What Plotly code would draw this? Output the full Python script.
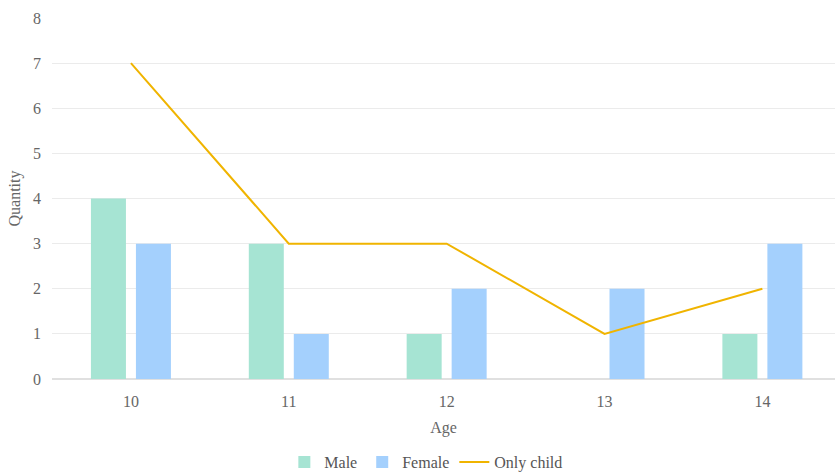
import plotly.graph_objects as go

ages = ["10", "11", "12", "13", "14"]
male = [4, 3, 1, 0, 1]
female = [3, 1, 2, 2, 3]
only_child = [7, 3, 3, 1, 2]

font_family = "Liberation Serif, Times New Roman, serif"

fig = go.Figure()
fig.add_trace(go.Bar(x=ages, y=male, name="Male", marker=dict(color="#a6e4d3", line=dict(width=0))))
fig.add_trace(go.Bar(x=ages, y=female, name="Female", marker=dict(color="#a4d0fd", line=dict(width=0))))
fig.add_trace(go.Scatter(x=ages, y=only_child, name="Only child", mode="lines",
                         line=dict(color="#f0b400", width=2)))

fig.update_layout(
    width=835, height=472,
    margin=dict(l=52, r=0, t=18, b=93, autoexpand=False),
    plot_bgcolor="white", paper_bgcolor="white",
    font=dict(family=font_family, size=16, color="#666666"),
    barmode="group", bargap=0.43, bargroupgap=0.222,
    showlegend=True,
    legend=dict(orientation="h", x=0.51, xanchor="center", xref="container",
                y=0.021, yanchor="middle", yref="container",
                font=dict(family=font_family, size=16, color="#555555"), itemwidth=30,
                tracegroupgap=0),
    xaxis=dict(type="category", range=[-0.5, 4.46], showgrid=False,
               showline=True, linecolor="#e0e0e0", linewidth=1,
               ticks="", automargin=False, ticklabelstandoff=8,
               tickfont=dict(family=font_family, size=16, color="#666666"),
               title=dict(text="Age", standoff=12,
                          font=dict(family=font_family, size=16, color="#666666"))),
    yaxis=dict(range=[0, 8], dtick=1, showgrid=True, gridcolor="#ebebeb",
               zeroline=True, zerolinecolor="#e0e0e0", ticks="",
               automargin=False, ticklabelstandoff=10,
               tickfont=dict(family=font_family, size=16, color="#666666"),
               title=dict(text="Quantity", standoff=8,
                          font=dict(family=font_family, size=16, color="#666666"))),
)

fig.write_html("out.html")
